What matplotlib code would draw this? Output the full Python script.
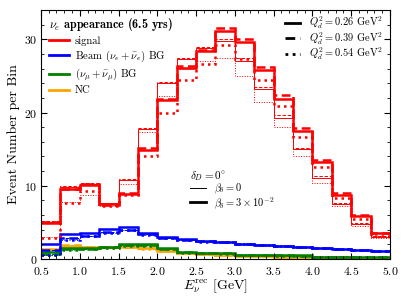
import numpy as np
import matplotlib
matplotlib.use('Agg')
from matplotlib import pyplot as plt
from matplotlib.lines import Line2D
from matplotlib.ticker import MultipleLocator

plt.rcParams['font.family'] = 'serif'
plt.rcParams['font.serif'] = ['cmr10']
plt.rcParams['mathtext.fontset'] = 'cm'
plt.rcParams['axes.formatter.use_mathtext'] = True

edges = np.arange(0.5, 5.01, 0.25)

# signal, thick = beta_delta 3e-2, thin = beta_delta 0
sig_b3_q26 = [4.9, 9.5, 10.1, 7.5, 8.9, 14.9, 21.7, 26.1, 28.4, 31.1, 29.6, 25.8, 21.9, 17.5, 13.2, 8.7, 5.8, 3.5]
sig_b3_q39 = [5.0, 9.6, 10.2, 7.4, 9.0, 15.2, 21.9, 26.3, 28.6, 31.6, 30.0, 26.2, 22.4, 17.9, 13.5, 9.0, 6.0, 3.6]
sig_b3_q54 = [2.9, 7.6, 9.3, 7.2, 8.7, 14.1, 20.0, 24.4, 26.6, 29.2, 27.3, 24.4, 20.9, 16.6, 12.6, 8.3, 5.4, 3.2]
sig_b0_q26 = [5.1, 9.8, 10.3, 7.6, 10.8, 17.8, 24.1, 27.3, 28.8, 29.8, 27.1, 23.2, 19.3, 15.0, 11.1, 7.5, 4.8, 3.0]
sig_b0_q39 = [5.2, 9.9, 10.4, 7.5, 10.9, 17.9, 24.2, 27.5, 29.0, 30.1, 27.4, 23.5, 19.6, 15.2, 11.3, 7.6, 4.9, 3.1]
sig_b0_q54 = [3.0, 7.8, 8.8, 7.3, 10.3, 17.4, 22.2, 26.0, 27.0, 27.5, 25.0, 21.5, 18.0, 14.0, 10.4, 7.2, 4.5, 2.8]

# beam nu_e BG
beam_q26 = [2.0, 3.4, 3.6, 4.1, 4.4, 3.5, 2.95, 2.7, 2.4, 2.35, 2.0, 1.9, 1.8, 1.7, 1.55, 1.4, 1.2, 1.1]
beam_q39 = [1.2, 2.8, 3.2, 3.7, 4.0, 3.4, 2.9, 2.65, 2.4, 2.35, 2.0, 1.9, 1.8, 1.7, 1.55, 1.4, 1.2, 1.1]
beam_q54 = [0.5, 2.6, 3.1, 3.6, 3.9, 3.3, 2.85, 2.6, 2.35, 2.3, 2.0, 1.9, 1.8, 1.7, 1.55, 1.4, 1.2, 1.1]

# nu_mu BG
numu_q26 = [0.9, 1.5, 1.5, 1.7, 2.0, 2.0, 1.45, 0.9, 0.8, 0.8, 0.55, 0.55, 0.5, 0.5, 0.3, 0.3, 0.3, 0.3]
numu_q39 = [0.7, 1.3, 1.4, 1.6, 1.9, 1.9, 1.4, 0.9, 0.8, 0.75, 0.55, 0.5, 0.5, 0.45, 0.3, 0.3, 0.3, 0.25]
numu_q54 = [0.5, 1.2, 1.3, 1.5, 1.8, 1.8, 1.35, 0.85, 0.75, 0.7, 0.5, 0.5, 0.45, 0.45, 0.3, 0.3, 0.25, 0.25]

# NC
nc_q26 = [1.4, 1.8, 1.7, 1.6, 1.7, 1.45, 1.1, 0.8, 0.7, 0.5, 0.4, 0.35, 0.3, 0.25, 0.2, 0.2, 0.15, 0.1]
nc_q39 = [1.0, 1.9, 1.7, 1.6, 1.7, 1.45, 1.1, 0.8, 0.7, 0.5, 0.4, 0.35, 0.3, 0.25, 0.2, 0.2, 0.15, 0.1]
nc_q54 = [0.5, 1.5, 1.5, 1.5, 1.6, 1.4, 1.05, 0.8, 0.7, 0.5, 0.4, 0.35, 0.3, 0.25, 0.2, 0.2, 0.15, 0.1]

styles = ['-', (0, (3.5, 1.8)), (0, (1, 1.6))]
thick, thin = 1.8, 0.7

fig = plt.figure(figsize=(4.07, 3.05), dpi=100)
ax = fig.add_axes([0.1007, 0.151, 0.8573, 0.816])

groups = [
    ('red', [sig_b3_q26, sig_b3_q39, sig_b3_q54], [sig_b0_q26, sig_b0_q39, sig_b0_q54]),
    ('blue', [beam_q26, beam_q39, beam_q54], [beam_q26, beam_q39, beam_q54]),
    ('green', [numu_q26, numu_q39, numu_q54], [numu_q26, numu_q39, numu_q54]),
    ('orange', [nc_q26, nc_q39, nc_q54], [nc_q26, nc_q39, nc_q54]),
]
for col, thick_sets, thin_sets in groups[::-1]:
    for vals, ls in zip(thin_sets, styles):
        ax.stairs(vals, edges, color=col, lw=thin, ls=ls, baseline=None)
    for vals, ls in zip(thick_sets, styles):
        ax.stairs(vals, edges, color=col, lw=thick, ls=ls, baseline=None)

ax.set_xlim(0.5, 5.0)
ax.set_ylim(0, 34)
ax.xaxis.set_major_locator(MultipleLocator(0.5))
ax.xaxis.set_minor_locator(MultipleLocator(0.1))
ax.yaxis.set_major_locator(MultipleLocator(10))
ax.yaxis.set_minor_locator(MultipleLocator(2))
ax.tick_params(which='both', direction='in', top=True, right=True, labelsize=8.5)
ax.tick_params(which='major', length=4)
ax.tick_params(axis='x', which='major', pad=4)
ax.tick_params(axis='y', which='major', pad=2.5)
ax.tick_params(which='minor', length=2)
ax.set_xlabel(r'$E_\nu^{\rm rec}$ [GeV]', fontsize=10, labelpad=1)
ax.set_ylabel('Event Number per Bin', fontsize=10, labelpad=3)

h1 = [Line2D([], [], color=c, lw=2.0) for c in ['red', 'blue', 'green', 'orange']]
lab1 = ['signal', r'Beam $(\nu_e+\bar{\nu}_e)$ BG', r'$(\nu_\mu+\bar{\nu}_\mu)$ BG', 'NC']
leg1 = ax.legend(h1, lab1, loc='upper left', bbox_to_anchor=(0.005, 1.0), frameon=False,
                 fontsize=7.7, handlelength=1.85, labelspacing=0.24, borderaxespad=0.2,
                 handletextpad=0.55, title=r'$\nu_e$ appearance (6.5 yrs)', alignment='left')
leg1.get_title().set_fontsize(8.7)
leg1.get_title().set_family('cmb10')
ax.add_artist(leg1)

h2 = [Line2D([], [], color='k', lw=2.0, ls=s) for s in styles]
lab2 = [r'$Q_d^2=0.26\ \mathrm{GeV}^2$', r'$Q_d^2=0.39\ \mathrm{GeV}^2$', r'$Q_d^2=0.54\ \mathrm{GeV}^2$']
leg2 = ax.legend(h2, lab2, loc='upper right', bbox_to_anchor=(0.9956, 1.006), frameon=False,
                 fontsize=7.5, handlelength=1.45, labelspacing=-0.1, borderaxespad=0.2,
                 handletextpad=0.84)
ax.add_artist(leg2)

h3 = [Line2D([], [], color='k', lw=thin), Line2D([], [], color='k', lw=2.0)]
lab3 = [r'$\beta_\delta=0$', r'$\beta_\delta=3\times10^{-2}$']
leg3 = ax.legend(h3, lab3, loc='upper left', bbox_to_anchor=(0.401, 0.40), frameon=False,
                 fontsize=7.5, handlelength=1.5, labelspacing=-0.1, handletextpad=0.8,
                 title=r'$\delta_D=0^{\circ}$', alignment='left')
leg3.get_title().set_fontsize(8)

fig.savefig('out.png', dpi=100)
